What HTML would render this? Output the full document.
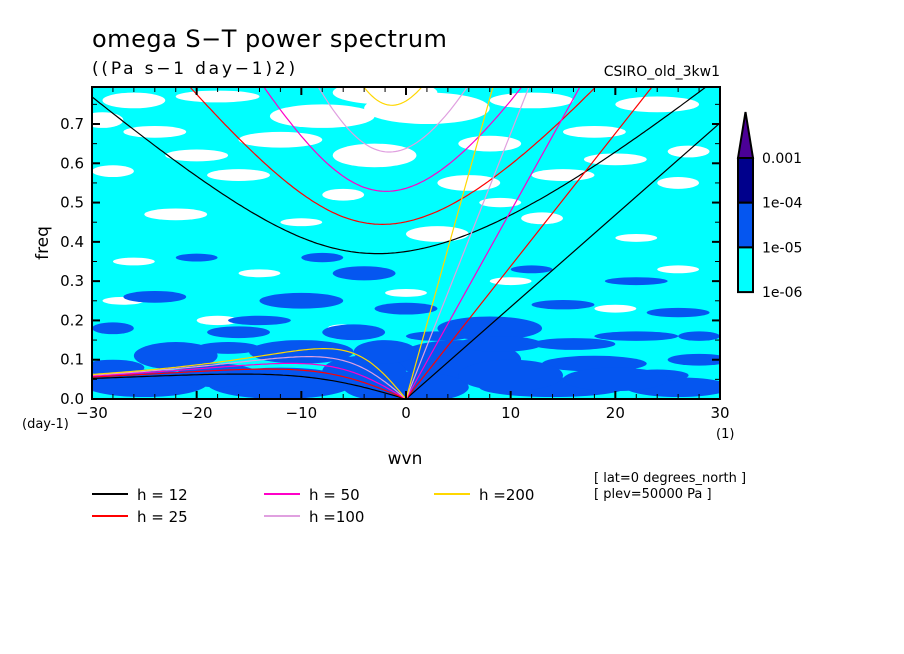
<!DOCTYPE html>
<html><head><meta charset="utf-8"><style>
body{margin:0;background:#fff;width:904px;height:654px;overflow:hidden}
svg{display:block;font-family:"DejaVu Sans","Liberation Sans",sans-serif}
</style></head><body>
<svg id="chart" width="904" height="654" viewBox="0 0 904 654">
<defs><clipPath id="clip"><rect x="92" y="87" width="628" height="312"/></clipPath></defs>
<text x="92" y="47" font-size="24" letter-spacing="0.5">omega S−T power spectrum</text>
<text x="92" y="74" font-size="17" letter-spacing="2.8">((Pa s−1 day−1)2)</text>
<text x="720" y="76" font-size="14" text-anchor="end">CSIRO_old_3kw1</text>
<g id="plot" clip-path="url(#clip)"></g>
<g id="axes"></g>
<text transform="translate(48,243) rotate(-90)" font-size="17" text-anchor="middle">freq</text>
<text x="405" y="464" font-size="17" text-anchor="middle">wvn</text>
<text x="22" y="428" font-size="13">(day-1)</text>
<text x="716" y="438" font-size="13">(1)</text>
<g id="colorbar"></g>
<g id="legend"></g>
<text x="594" y="482" font-size="13">[ lat=0 degrees_north ]</text>
<text x="594" y="498" font-size="13">[ plev=50000 Pa ]</text>
</svg>
<script>
const depths=[12,25,50,100,200];
const depthColors=['#000000','#ff0000','#ff00c8','#e0a0e0','#ffd700'];
const depthLabels=['h = 12','h = 25','h = 50','h =100','h =200'];
const xTicks=[-30,-20,-10,0,10,20,30];
const yTicks=[0,0.1,0.2,0.3,0.4,0.5,0.6,0.7];
const cbLabels=['0.001','1e-04','1e-05','1e-06'];
const cbColors=['#00008c','#0556f0','#00ffff'];
const X0=92,X1=720,Y0=399,YT=87;
function sx(k){return X0+(k+30)/60*(X1-X0);}
function sy(f){return Y0-f/0.7*275;}
const NS='http://www.w3.org/2000/svg';
function mk(t,a,p){const e=document.createElementNS(NS,t);for(const k in a)e.setAttribute(k,a[k]);p.appendChild(e);return e;}
const plot=document.getElementById('plot');
const bg=mk('rect',{x:X0,y:YT,width:X1-X0,height:Y0-YT,fill:'#00ffff'},plot);


const patches=[
[-26,0.76,3,0.02,0],[-18,0.77,4,0.015,0],[-8,0.72,5,0.03,0],[2,0.74,6,0.04,0],[12,0.76,4,0.02,0],[24,0.75,4,0.02,0],
[-24,0.68,3,0.015,0],[-12,0.66,4,0.02,0],[-3,0.62,4,0.03,0],[8,0.65,3,0.02,0],[18,0.68,3,0.015,0],[27,0.63,2,0.015,0],
[-28,0.58,2,0.015,0],[-16,0.57,3,0.015,0],[-6,0.52,2,0.015,0],[6,0.55,3,0.02,0],[15,0.57,3,0.015,0],[26,0.55,2,0.015,0],
[-22,0.47,3,0.015,0],[-10,0.45,2,0.01,0],[3,0.42,3,0.02,0],[13,0.46,2,0.015,0],[22,0.41,2,0.01,0],
[-26,0.35,2,0.01,0],[-14,0.32,2,0.01,0],[0,0.27,2,0.01,0],[10,0.3,2,0.01,0],[26,0.33,2,0.01,0],
[-27,0.25,2,0.01,0],[-18,0.2,2,0.012,0],[-6,0.18,1.5,0.01,0],[20,0.23,2,0.01,0],
[-29,0.71,2,0.02,0],[-20,0.62,3,0.015,0],[-2,0.78,5,0.03,0],[20,0.61,3,0.015,0],[9,0.5,2,0.012,0],
[-20,0.36,2,0.01,1],[-8,0.36,2,0.012,1],[-4,0.32,3,0.018,1],[12,0.33,2,0.01,1],[22,0.3,3,0.01,1],
[-24,0.26,3,0.015,1],[-10,0.25,4,0.02,1],[0,0.23,3,0.015,1],[15,0.24,3,0.012,1],[26,0.22,3,0.012,1],
[-28,0.18,2,0.015,1],[-16,0.17,3,0.015,1],[-5,0.17,3,0.02,1],[8,0.18,5,0.03,1],[22,0.16,4,0.012,1],
[-22,0.11,4,0.035,1],[-10,0.12,5,0.03,1],[5,0.1,6,0.05,1],[18,0.09,5,0.02,1],[28,0.1,3,0.015,1],
[-25,0.04,6,0.035,1],[-12,0.04,7,0.04,1],[0,0.03,6,0.04,1],[14,0.03,7,0.025,1],[26,0.03,5,0.025,1],
[-17,0.13,3,0.015,1],[9,0.14,4,0.02,1],[24,0.06,3,0.015,1],
[-28,0.08,3,0.02,1],[-18,0.06,4,0.03,1],[-4,0.07,4,0.04,1],[10,0.06,5,0.04,1],[20,0.05,5,0.03,1],
[-14,0.2,3,0.012,1],[3,0.16,3,0.012,1],[16,0.14,4,0.015,1],[28,0.16,2,0.012,1],[-2,0.12,3,0.03,1]];
patches.forEach(p=>{
  const e=mk('ellipse',{cx:sx(p[0]),cy:sy(p[1]),rx:p[2]*628/60,ry:p[3]/0.7*275,fill:p[4]?'#0556f0':'#ffffff'},plot);
  
  
});
const beta=2.29e-11,R=6.371e6,g=9.81,toCpd=86400/(2*Math.PI);
function roots(k,c,n){
  const p=-(c*c*k*k+(2*n+1)*beta*c),q=-beta*c*c*k;
  const m=2*Math.sqrt(-p/3),th=Math.acos(Math.max(-1,Math.min(1,3*q/(p*m))))/3;
  return [0,1,2].map(i=>m*Math.cos(th-2*Math.PI*i/3)).sort((a,b)=>a-b);
}
depths.forEach((h,i)=>{
  const c=Math.sqrt(g*h);let ig='',er='';
  for(let s=-30;s<=30.001;s+=0.25){
    const k=s/R,r=roots(k,c,1);
    ig+=(ig?'L':'M')+sx(s).toFixed(1)+','+sy(r[2]*toCpd).toFixed(1);
    if(s<=0)er+=(er?'L':'M')+sx(s).toFixed(1)+','+sy(s<0?Math.abs(r[1])*toCpd:0).toFixed(1);
  }
  const kv='M'+sx(0)+','+sy(0)+'L'+sx(30)+','+sy(c*30/R*toCpd);
  [['ig',ig],['er',er],['kelvin',kv]].forEach(([nm,d])=>{
    const e=mk('path',{d:d,fill:'none',stroke:depthColors[i],'stroke-width':1.2},plot);
    
    
  });
});
const ax=document.getElementById('axes');
const fr=mk('rect',{x:X0,y:YT,width:X1-X0,height:Y0-YT,fill:'none',stroke:'#000','stroke-width':2},ax);


for(let k=-30;k<=30;k+=2){const L=(k%10===0)?8:5;
  mk('line',{x1:sx(k),x2:sx(k),y1:Y0,y2:Y0-L,stroke:'#000','stroke-width':k%10===0?2:1},ax);
  mk('line',{x1:sx(k),x2:sx(k),y1:YT,y2:YT+L,stroke:'#000','stroke-width':k%10===0?2:1},ax);}
for(let f=0;f<=0.78;f+=0.05){const maj=Math.round(f*100)%10===0,L=maj?8:5;
  mk('line',{x1:X0,x2:X0+L,y1:sy(f),y2:sy(f),stroke:'#000','stroke-width':maj?2:1},ax);
  mk('line',{x1:X1,x2:X1-L,y1:sy(f),y2:sy(f),stroke:'#000','stroke-width':maj?2:1},ax);}
xTicks.forEach(v=>{const t=mk('text',{x:sx(v),y:418,'font-size':15,'text-anchor':'middle'},ax);t.textContent=v<0?'−'+(-v):v;
  
  });
yTicks.forEach(v=>{const t=mk('text',{x:84,y:sy(v)+5,'font-size':15,'text-anchor':'end'},ax);t.textContent=v.toFixed(1);
  
  });
const cb=document.getElementById('colorbar');
const tri=mk('polygon',{points:'738,158 753,158 745.5,112',fill:'#4b0096',stroke:'#000','stroke-width':2},cb);


cbColors.forEach((c,i)=>{const r=mk('rect',{x:738,y:158+i*44.7,width:15,height:44.7,fill:c,stroke:'#000','stroke-width':2},cb);
  
  });
cbLabels.forEach((l,i)=>{const t=mk('text',{x:762,y:163+i*44.7,'font-size':14},cb);t.textContent=l;
  
  });
const lg=document.getElementById('legend');
const lx=[92,264,434],ly=[494,516];
depthLabels.forEach((l,i)=>{const col=Math.floor(i/2),row=i%2;const x=lx[col],y=ly[row];
  const ln=mk('line',{x1:x,x2:x+36,y1:y,y2:y,stroke:depthColors[i],'stroke-width':2},lg);
  
  
  const t=mk('text',{x:x+45,y:y+6,'font-size':15},lg);t.textContent=l;
  
  });
</script>
</body></html>
